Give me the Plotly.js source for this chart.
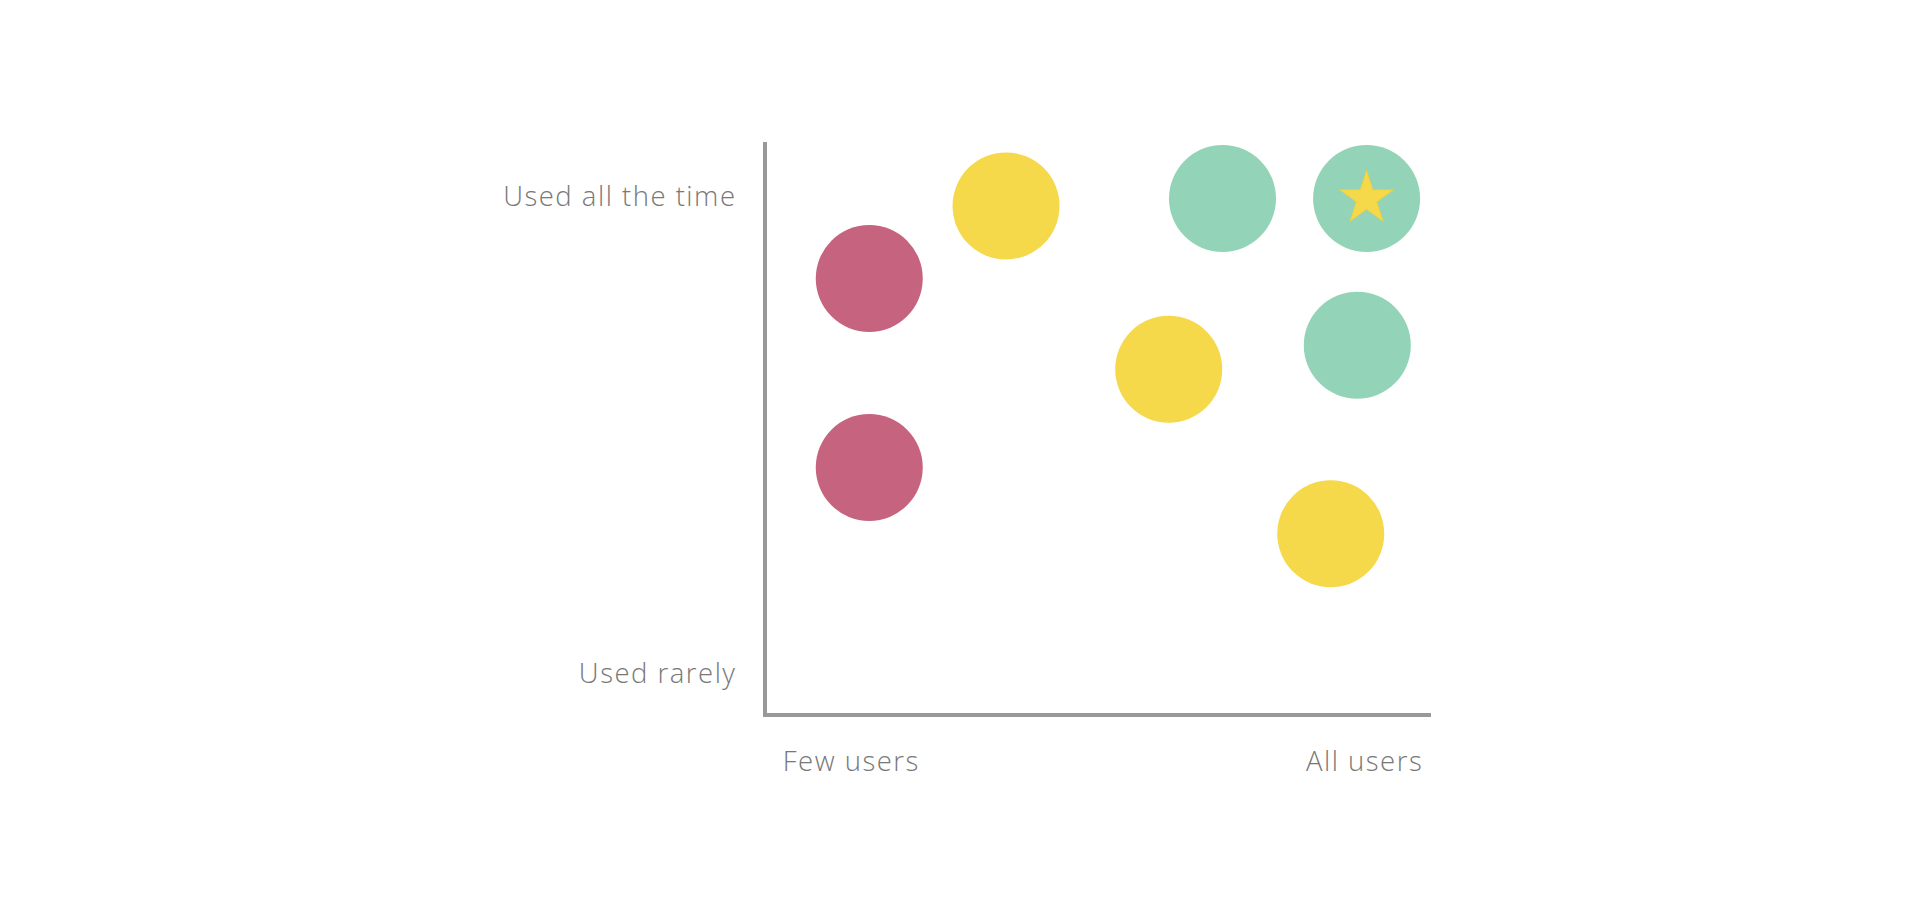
<!DOCTYPE html>
<html>
<head>
<meta charset="utf-8">
<script src="https://cdn.plot.ly/plotly-3.0.1.min.js"></script>
<style>
  html, body { margin: 0; padding: 0; background: #ffffff; }
  #chart { width: 1920px; height: 922px; }
  .xtick text, .ytick text { letter-spacing: 1.5px; }
</style>
</head>
<body>
<div id="chart"></div>
<script>
// Usage (x) vs frequency (y), on a 0-10 scale
const redX = [1.54, 1.54];
const redY = [7.61, 4.30];
const yellowX = [3.60, 6.05, 8.49];
const yellowY = [8.88, 6.02, 3.14];
const greenX = [6.86, 9.03, 8.89];
const greenY = [9.01, 9.01, 6.44];
const starX = [9.03];
const starY = [9.01];

const xTickVals = [1.27, 9.0];
const xTickText = ['Few users', 'All users'];
const yTickVals = [0.70, 9.05];
const yTickText = ['Used rarely', 'Used all the time'];

const RED = '#c6637f';
const YELLOW = '#f5d94a';
const GREEN = '#93d3b8';

function dots(x, y, color) {
  return {
    x: x, y: y, type: 'scatter', mode: 'markers', hoverinfo: 'skip',
    marker: { size: 107, color: color, line: { width: 0 } }
  };
}

const traces = [
  dots(redX, redY, RED),
  dots(yellowX, yellowY, YELLOW),
  dots(greenX, greenY, GREEN),
  {
    x: starX, y: starY, type: 'scatter', mode: 'markers', hoverinfo: 'skip',
    marker: { symbol: 'star', size: 40, color: YELLOW, line: { width: 1, color: '#ecd23f' } }
  }
];

const tickFont = { family: '"Open Sans", sans-serif', size: 27.5, color: '#787878', weight: 300 };

const layout = {
  width: 1920, height: 922,
  margin: { l: 767, r: 489, t: 142, b: 209 },
  paper_bgcolor: '#ffffff', plot_bgcolor: '#ffffff',
  showlegend: false,
  xaxis: {
    range: [0, 10], showgrid: false, zeroline: false,
    showline: true, linecolor: '#999999', linewidth: 4,
    tickmode: 'array', tickvals: xTickVals, ticktext: xTickText,
    ticks: 'outside', ticklen: 21, tickcolor: 'rgba(0,0,0,0)',
    tickfont: tickFont, fixedrange: true
  },
  yaxis: {
    range: [0, 10], showgrid: false, zeroline: false,
    showline: true, linecolor: '#999999', linewidth: 4,
    tickmode: 'array', tickvals: yTickVals, ticktext: yTickText,
    ticks: 'outside', ticklen: 21, tickcolor: 'rgba(0,0,0,0)',
    tickfont: tickFont, fixedrange: true
  }
};

Plotly.newPlot('chart', traces, layout, { displayModeBar: false, staticPlot: true });
</script>
</body>
</html>
